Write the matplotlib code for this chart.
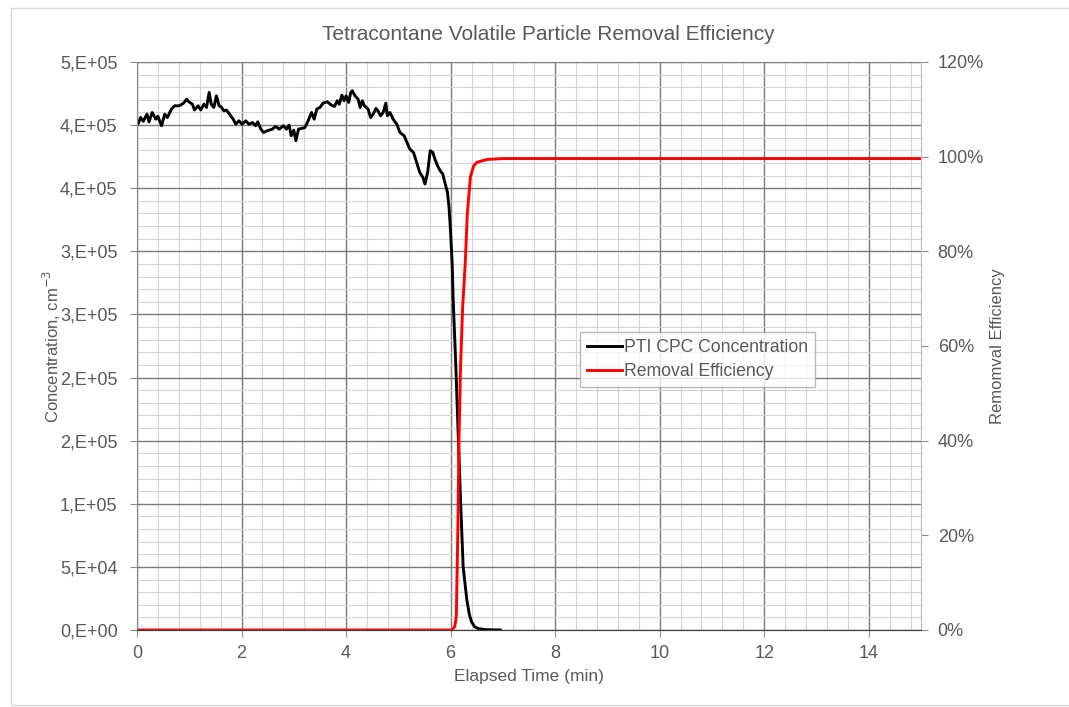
import matplotlib
matplotlib.use('Agg')
import matplotlib.pyplot as plt
import matplotlib.patches as patches
from matplotlib.ticker import MultipleLocator, FuncFormatter
import numpy as np

plt.rcParams['font.family'] = ['Liberation Sans', 'DejaVu Sans']

# PTI CPC concentration (cm^-3)
time_conc = [0.00, 0.02, 0.07, 0.12, 0.19, 0.23, 0.29, 0.36, 0.40, 0.47, 0.53, 0.58,
             0.66, 0.72, 0.81, 0.89, 0.95, 0.99, 1.06, 1.10, 1.17, 1.22, 1.28, 1.33,
             1.38, 1.42, 1.47, 1.52, 1.57, 1.61, 1.66, 1.71, 1.77, 1.84, 1.89, 1.95,
             2.01, 2.08, 2.14, 2.21, 2.27, 2.31, 2.37, 2.42, 2.49, 2.59, 2.65, 2.72,
             2.80, 2.86, 2.91, 2.95, 3.00, 3.04, 3.09, 3.15, 3.21, 3.26, 3.30, 3.34,
             3.39, 3.44, 3.50, 3.56, 3.64, 3.72, 3.78, 3.83, 3.87, 3.92, 3.96, 4.00,
             4.05, 4.09, 4.12, 4.17, 4.23, 4.27, 4.31, 4.35, 4.42, 4.47, 4.52, 4.57,
             4.61, 4.66, 4.71, 4.76, 4.79, 4.84, 4.90, 4.97, 5.03, 5.11, 5.16, 5.22,
             5.29, 5.35, 5.41, 5.47, 5.51, 5.56, 5.61, 5.66, 5.70, 5.75, 5.80, 5.85,
             5.89, 5.94, 5.97, 6.00, 6.03, 6.05, 6.10, 6.15, 6.19, 6.24, 6.31, 6.36,
             6.40, 6.46, 6.53, 6.65, 6.95]
conc_k = [402.0, 401.0, 406.0, 403.0, 408.7, 402.6, 410.0, 404.7, 407.0, 399.5, 408.7, 406.0,
          412.7, 415.3, 415.3, 417.4, 420.6, 418.5, 416.6, 412.0, 415.3, 412.0, 416.6, 414.0,
          425.9, 416.6, 414.0, 423.2, 415.3, 414.5, 411.3, 412.0, 408.7, 404.7, 400.8, 403.4,
          400.8, 403.4, 400.8, 402.0, 399.5, 402.6, 396.8, 394.2, 395.5, 396.8, 399.0, 396.8,
          399.5, 396.8, 400.0, 391.6, 396.0, 387.6, 396.8, 397.4, 398.0, 402.0, 406.0, 410.0,
          404.7, 412.7, 414.0, 417.4, 418.5, 415.8, 414.8, 419.3, 416.6, 423.7, 419.3, 423.2,
          418.0, 425.9, 427.2, 423.2, 420.6, 414.0, 419.3, 415.3, 412.7, 406.0, 408.7, 413.2,
          411.3, 407.4, 410.0, 417.4, 407.4, 410.0, 404.7, 400.8, 394.2, 391.6, 386.8, 381.0,
          378.4, 370.5, 362.5, 358.6, 353.3, 362.5, 379.7, 378.4, 373.0, 367.8, 363.9, 361.2,
          354.6, 346.7, 335.0, 315.0, 290.0, 261.0, 209.0, 150.0, 103.0, 50.0, 24.0, 12.0,
          6.6, 2.5, 1.2, 0.3, 0.0]
conc = [c * 1000 for c in conc_k]

# removal efficiency (fraction)
time_eff = [0.0, 6.02, 6.08, 6.11, 6.14, 6.16, 6.19, 6.23, 6.28, 6.32, 6.38, 6.44,
            6.50, 6.69, 7.00, 15.0]
eff = [0.0, 0.0, 0.007, 0.03, 0.22, 0.40, 0.556, 0.68, 0.775, 0.88, 0.958, 0.98,
       0.988, 0.994, 0.996, 0.996]

txt = '#595959'

fig = plt.figure(figsize=(10.69, 7.07), dpi=100)
ax = fig.add_axes([137 / 1069, 1 - 630 / 707, (921 - 137) / 1069, (630 - 62) / 707])
ax2 = ax.twinx()

# outer chart frame
fig.patches.append(patches.Rectangle((11 / 1069, 2 / 707), 1.2, 697 / 707,
                                     transform=fig.transFigure, fill=False,
                                     edgecolor='#d9d9d9', linewidth=1))

l1, = ax.plot(time_conc, conc, color='black', linewidth=2.1, label='PTI CPC Concentration')
l2, = ax2.plot(time_eff, eff, color='#ff0000', linewidth=2.1, label='Removal Efficiency')

ax.set_xlim(0, 15)
ax.set_ylim(0, 4.5e5)
ax2.set_ylim(0, 1.2)

ax.xaxis.set_major_locator(MultipleLocator(2))
ax.xaxis.set_minor_locator(MultipleLocator(0.4))
ax.yaxis.set_major_locator(MultipleLocator(5e4))
ax.yaxis.set_minor_locator(MultipleLocator(1e4))
ax2.yaxis.set_major_locator(MultipleLocator(0.2))


def sci_fmt(v, pos):
    if v <= 0:
        return '0,E+00'
    e = int(np.floor(np.log10(v)))
    m = int(np.floor(v / 10 ** e + 0.5))
    if m == 10:
        m, e = 1, e + 1
    return f'{m},E+{e:02d}'


ax.yaxis.set_major_formatter(FuncFormatter(sci_fmt))
ax2.yaxis.set_major_formatter(FuncFormatter(lambda v, p: f'{v * 100:.0f}%'))

ax.grid(which='major', color='#7a7a7a', linewidth=1.0)
ax.grid(which='minor', color='#d4d4d4', linewidth=0.8)
ax.set_axisbelow(True)

for a in (ax, ax2):
    a.spines['top'].set_visible(False)
    a.spines['left'].set_color('#8c8c8c')
    a.spines['bottom'].set_color('#404040')
    a.spines['right'].set_color('#bfbfbf')

ax.tick_params(which='major', axis='both', colors='#8c8c8c', labelcolor=txt,
               labelsize=13, length=5)
ax.tick_params(axis='y', pad=9)
ax.tick_params(axis='x', pad=6)
ax.tick_params(which='minor', length=0)
ax2.tick_params(axis='y', colors='#8c8c8c', labelcolor=txt, labelsize=13, length=5, pad=7)

ax.set_xlabel('Elapsed Time (min)', color=txt, fontsize=12.5, labelpad=5)
ax.set_ylabel('Concentration, cm$^{-3}$', color=txt, fontsize=12, labelpad=-2.5)
ax2.set_ylabel('Remomval Efficiency', color=txt, fontsize=12, labelpad=4.5)

fig.text(548 / 1069, 1 - 34 / 707, 'Tetracontane Volatile Particle Removal Efficiency',
         ha='center', va='center', fontsize=15, color=txt)

leg = ax2.legend(handles=[l1, l2], loc='upper left',
                 bbox_to_anchor=(580 / 1069, 1 - 332 / 707), bbox_transform=fig.transFigure,
                 frameon=True, fancybox=False, fontsize=12.7, handlelength=2.0,
                 handletextpad=0.1, borderpad=0.4, labelspacing=0.4,
                 borderaxespad=0)
leg.get_frame().set_edgecolor('#a6a6a6')
leg.get_frame().set_linewidth(1)
for t in leg.get_texts():
    t.set_color(txt)

plt.savefig('out.png', dpi=100, facecolor='white')
plt.close()
